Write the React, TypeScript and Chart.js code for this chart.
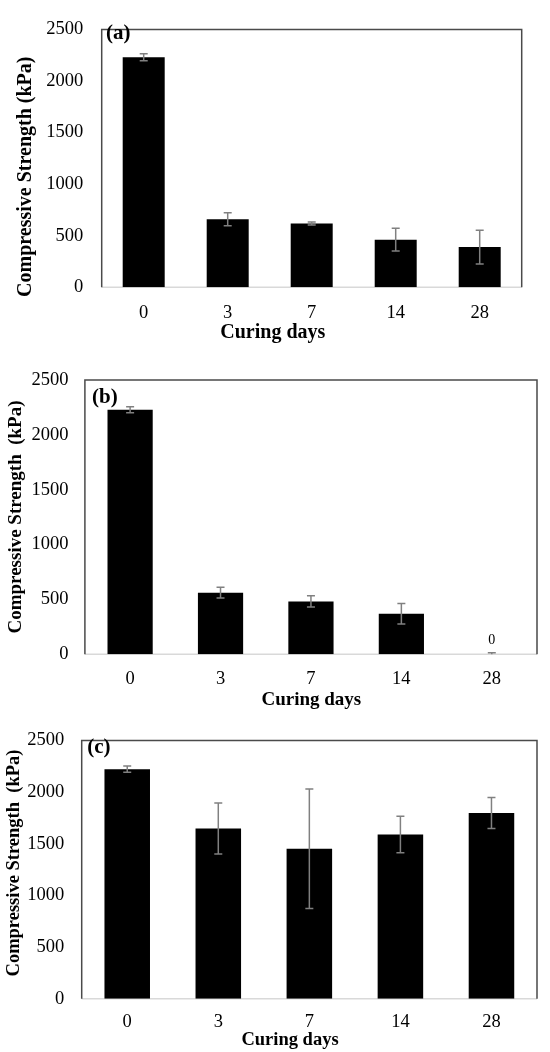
import React, { useEffect, useRef } from 'react';
import { Chart, registerables } from 'chart.js';

Chart.register(...registerables);

// ---- data ----
const curingDays = ['0', '3', '7', '14', '28'];
const yMin = 0;
const yMax = 2500;
const yStep = 500;
const strengthA = [2231, 660, 619, 462, 390];
const errorA = [33, 63, 15, 110, 164];
const strengthB = [2229, 562, 482, 370, 0];
const errorB = [28, 48, 51, 94, 15];
const strengthC = [2222, 1648, 1452, 1590, 1798];
const errorC = [30, 248, 578, 177, 150];
const panelLetters = ['(a)', '(b)', '(c)'];
const yTitles = ['Compressive Strength (kPa)', 'Compressive Strength  (kPa)', 'Compressive Strength  (kPa)'];
const xTitle = 'Curing days';
const zeroLabelText = '0';

const seriesValues = [strengthA, strengthB, strengthC];
const seriesErrors = [errorA, errorB, errorC];

// ---- layout (positions / styles) ----
const FONT = "'Liberation Serif', 'Times New Roman', serif";
const layouts = [
  { top: 0, height: 345, left: 101.7, right: 521.7, plotTop: 15, plotBottom: 287.3, tickFont: 18.5, yPad: 18.4, xPad: 14.6, yTitleX: 26.3, yTitleY: 176.7, titleFont: 20, xTitleX: 272.8, xTitleBase: 337.7, letterX: 106, letterBase: 39.3, zeroLabel: false },
  { top: 345, height: 370, left: 84.9, right: 537, plotTop: 35, plotBottom: 309.3, tickFont: 18.5, yPad: 16.5, xPad: 13.9, yTitleX: 15.8, yTitleY: 172, titleFont: 19, xTitleX: 311.3, xTitleBase: 360, letterX: 92, letterBase: 57.7, zeroLabel: true },
  { top: 712, height: 340, left: 81.7, right: 537, plotTop: 13.7, plotBottom: 286.7, tickFont: 18.5, yPad: 17.4, xPad: 12.4, yTitleX: 14.7, yTitleY: 151, titleFont: 18.5, xTitleX: 290, xTitleBase: 333, letterX: 87.3, letterBase: 41.3, zeroLabel: false },
];

const decorPlugin = {
  id: 'decor',
  beforeDatasetsDraw(chart: any) {
    const { ctx, chartArea } = chart;
    ctx.save();
    ctx.strokeStyle = '#d9d9d9';
    ctx.lineWidth = 1.5;
    ctx.beginPath();
    ctx.moveTo(chartArea.left, chartArea.bottom);
    ctx.lineTo(chartArea.right, chartArea.bottom);
    ctx.stroke();
    ctx.restore();
  },
  afterDatasetsDraw(chart: any, _args: any, opts: any) {
    const { ctx, chartArea } = chart;
    const yScale = chart.scales.y;
    const meta = chart.getDatasetMeta(0);
    const values: number[] = opts.values;
    const errors: number[] = opts.errors;

    // error bars
    ctx.save();
    ctx.beginPath();
    ctx.rect(chartArea.left, chartArea.top - 2, chartArea.right - chartArea.left, chartArea.bottom - chartArea.top + 2);
    ctx.clip();
    ctx.strokeStyle = '#808080';
    ctx.lineWidth = 1.5;
    meta.data.forEach((bar: any, i: number) => {
      const x = bar.x;
      const yT = yScale.getPixelForValue(values[i] + errors[i]);
      const yB = yScale.getPixelForValue(values[i] - errors[i]);
      ctx.beginPath();
      ctx.moveTo(x, yT);
      ctx.lineTo(x, yB);
      ctx.moveTo(x - 4, yT);
      ctx.lineTo(x + 4, yT);
      ctx.moveTo(x - 4, yB);
      ctx.lineTo(x + 4, yB);
      ctx.stroke();
    });
    ctx.restore();

    // zero data labels
    if (opts.zeroLabel) {
      ctx.save();
      ctx.fillStyle = '#000';
      ctx.font = `14px ${FONT}`;
      ctx.textAlign = 'center';
      ctx.textBaseline = 'alphabetic';
      meta.data.forEach((bar: any, i: number) => {
        if (values[i] === 0) {
          const yT = yScale.getPixelForValue(values[i] + errors[i]);
          ctx.fillText(zeroLabelText, bar.x, yT - 8.3);
        }
      });
      ctx.restore();
    }

    // box border (top, left, right)
    ctx.save();
    ctx.strokeStyle = '#4a4a4a';
    ctx.lineWidth = 1.5;
    ctx.beginPath();
    ctx.moveTo(chartArea.left, chartArea.bottom);
    ctx.lineTo(chartArea.left, chartArea.top);
    ctx.lineTo(chartArea.right, chartArea.top);
    ctx.lineTo(chartArea.right, chartArea.bottom);
    ctx.stroke();
    ctx.restore();

    // panel letter
    ctx.save();
    ctx.fillStyle = '#000';
    ctx.font = `bold 21px ${FONT}`;
    ctx.textAlign = 'left';
    ctx.textBaseline = 'alphabetic';
    ctx.fillText(opts.letter, opts.letterX, opts.letterBase);
    ctx.restore();

    // axis titles
    ctx.save();
    ctx.fillStyle = '#000';
    ctx.font = `bold ${opts.titleFont}px ${FONT}`;
    ctx.textAlign = 'center';
    ctx.textBaseline = 'alphabetic';
    ctx.fillText(opts.xTitle, opts.xTitleX, opts.xTitleBase);
    ctx.translate(opts.yTitleX, opts.yTitleY);
    ctx.rotate(-Math.PI / 2);
    ctx.textBaseline = 'middle';
    ctx.fillText(opts.yTitle, 0, 0);
    ctx.restore();
  },
};

function Panel({ index }: { index: number }) {
  const ref = useRef<HTMLCanvasElement | null>(null);
  const L = layouts[index];
  useEffect(() => {
    if (!ref.current) return;
    const chart = new Chart(ref.current, {
      type: 'bar',
      data: {
        labels: curingDays,
        datasets: [
          {
            data: seriesValues[index],
            backgroundColor: '#000000',
            borderWidth: 0,
            barPercentage: 0.5,
            categoryPercentage: 1,
          },
        ],
      },
      options: {
        responsive: false,
        animation: false,
        events: [],
        layout: { padding: { left: 0, top: L.plotTop, right: 550 - L.right, bottom: 0 } },
        plugins: {
          legend: { display: false },
          tooltip: { enabled: false },
          title: { display: false },
          decor: {
            values: seriesValues[index],
            errors: seriesErrors[index],
            letter: panelLetters[index],
            letterX: L.letterX,
            letterBase: L.letterBase,
            xTitle: xTitle,
            yTitle: yTitles[index],
            titleFont: L.titleFont,
            xTitleX: L.xTitleX,
            xTitleBase: L.xTitleBase,
            yTitleX: L.yTitleX,
            yTitleY: L.yTitleY,
            zeroLabel: L.zeroLabel,
          },
        } as any,
        scales: {
          x: {
            type: 'category',
            offset: true,
            grid: { display: false, drawTicks: false },
            border: { display: false },
            ticks: { color: '#000', font: { family: FONT, size: L.tickFont }, padding: L.xPad, maxRotation: 0 },
            afterFit: (axis: any) => {
              axis.height = L.height - L.plotBottom;
            },
          },
          y: {
            type: 'linear',
            min: yMin,
            max: yMax,
            grid: { display: false, drawTicks: false },
            border: { display: false },
            ticks: {
              stepSize: yStep,
              color: '#000',
              font: { family: FONT, size: L.tickFont },
              padding: L.yPad,
              callback: (v: any) => String(v),
            },
            afterFit: (axis: any) => {
              axis.width = L.left;
            },
          },
        },
      },
      plugins: [decorPlugin],
    });
    return () => chart.destroy();
  }, [index]);
  return (
    <canvas
      ref={ref}
      width={550}
      height={L.height}
      style={{ position: 'absolute', left: 0, top: L.top, width: 550, height: L.height }}
    />
  );
}

export default function App() {
  return (
    <div style={{ position: 'absolute', left: 0, top: 0, width: 550, height: 1052, background: '#fff', overflow: 'hidden' }}>
      <Panel index={0} />
      <Panel index={1} />
      <Panel index={2} />
    </div>
  );
}
